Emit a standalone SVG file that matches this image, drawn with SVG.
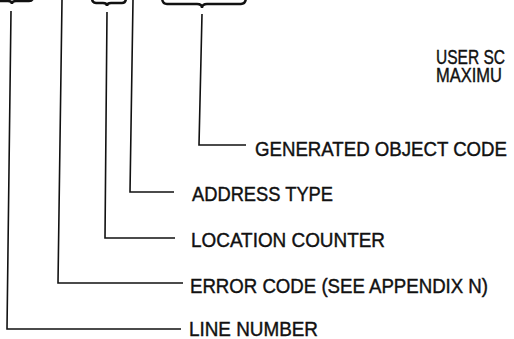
<svg xmlns="http://www.w3.org/2000/svg" width="514" height="339" viewBox="0 0 514 339">
<style>
.ln{fill:none;stroke:#111;stroke-width:1.6;stroke-linejoin:miter}
.br{fill:none;stroke:#111;stroke-width:2.4;stroke-linecap:round}
.t{font-family:"Liberation Sans",Arial,Helvetica,sans-serif;font-size:19.5px;fill:#111;stroke:#111;stroke-width:0.4}
</style>
<rect width="514" height="339" fill="#fff"/>
<g id="braces">
<path class="br" d="M-30,-3 Q-30,1 -26,1 L8,1 Q12,1 12,4 Q12,1 16,1 L29,1 Q33,1 33,-3"/>
<path class="br" d="M92,-2 Q92,3 96,3 L103,3 Q107,3 107,6 Q107,3 111,3 L122,3 Q126,3 126,-2"/>
<path class="br" d="M162,-3 Q162,4 167,4 L197,4 Q202,4 202,8 Q202,4 207,4 L241,4 Q246,4 246,-3"/>
</g>
<g id="connectors">
<polyline class="ln" points="11,11 7,329 181,329"/>
<polyline class="ln" points="62,0 58,283 183,283"/>
<polyline class="ln" points="107,12 105,238 175,238"/>
<polyline class="ln" points="133,0 130,192 174,192"/>
<polyline class="ln" points="202,14 199,145 246,145"/>
</g>
<g id="n-user"><text class="t" x="436" y="63.5" font-size="15.5" textLength="69" lengthAdjust="spacingAndGlyphs">USER SC</text><text class="t" x="436" y="81.5" font-size="15.5" textLength="66" lengthAdjust="spacingAndGlyphs">MAXIMU</text></g>
<g id="n-object"><text class="t" x="255" y="156" font-size="18.5" textLength="252" lengthAdjust="spacingAndGlyphs">GENERATED OBJECT CODE</text></g>
<g id="n-address"><text class="t" x="192" y="201" textLength="141" lengthAdjust="spacingAndGlyphs">ADDRESS TYPE</text></g>
<g id="n-location"><text class="t" x="191" y="247" textLength="194" lengthAdjust="spacingAndGlyphs">LOCATION COUNTER</text></g>
<g id="n-error"><text class="t" x="190" y="293" textLength="298" lengthAdjust="spacingAndGlyphs">ERROR CODE (SEE APPENDIX N)</text></g>
<g id="n-line"><text class="t" x="189" y="336" textLength="129" lengthAdjust="spacingAndGlyphs">LINE NUMBER</text></g>
</svg>
